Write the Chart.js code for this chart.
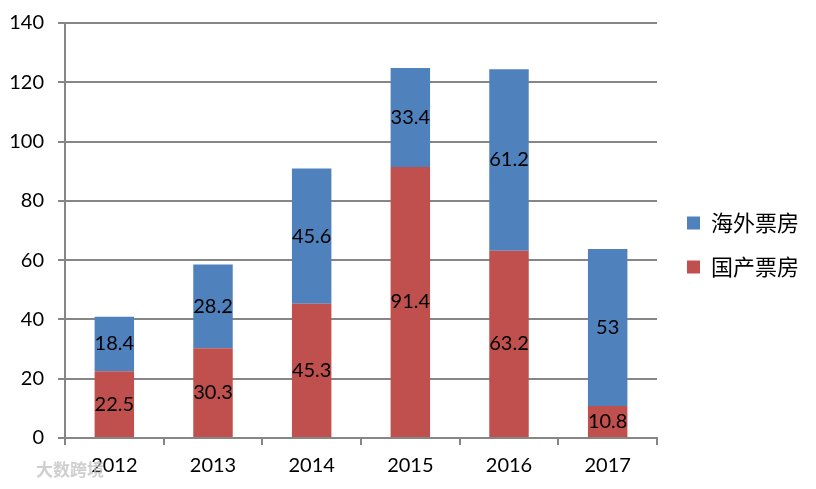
<!DOCTYPE html>
<html><head><meta charset="utf-8">
<script src="https://cdn.jsdelivr.net/npm/chart.js@4"></script>
<style>html,body{margin:0;padding:0;background:#fff}#w{width:816px;height:489px;position:relative}</style>
</head><body><div id="w"><canvas id="c"></canvas></div>
<script>
const categories = ['2012','2013','2014','2015','2016','2017'];
const domestic = [22.5, 30.3, 45.3, 91.4, 63.2, 10.8];
const overseas = [18.4, 28.2, 45.6, 33.4, 61.2, 53];
const domesticLabel = '国产票房';
const overseasLabel = '海外票房';
const yTicks = [0,20,40,60,80,100,120,140];
const FONT = 'Lato, "Noto Sans CJK SC", sans-serif';

const valueLabels = {
  id:'valueLabels',
  afterDatasetsDraw(chart){
    const ctx = chart.ctx;
    ctx.save();
    ctx.font = '20px ' + FONT;
    ctx.fillStyle = '#000';
    ctx.textAlign = 'center';
    ctx.textBaseline = 'middle';
    chart.data.datasets.forEach((ds, di) => {
      const meta = chart.getDatasetMeta(di);
      meta.data.forEach((bar, i) => {
        const y = (bar.y + bar.base) / 2;
        ctx.fillText(String(ds.data[i]), bar.x, y);
      });
    });
    ctx.restore();
  }
};
const legendShift = {
  id:'legendShift',
  afterLayout(chart){
    const l = chart.legend;
    if (!l) return;
    l.left += 8; l.right += 8;
    l.top -= 11; l.bottom -= 11;
  }
};
const watermark = {
  id:'watermark',
  afterDraw(chart){
    const ctx = chart.ctx;
    ctx.save();
    ctx.font = 'bold 17px "Noto Sans CJK SC", sans-serif';
    ctx.fillStyle = 'rgba(195,195,195,0.8)';
    ctx.textBaseline = 'middle';
    ctx.fillText('大数跨境', 36, 470);
    ctx.restore();
  }
};

new Chart(document.getElementById('c'), {
  type:'bar',
  data:{
    labels: categories,
    datasets:[
      {label: domesticLabel, data: domestic, backgroundColor:'#C0504D', order:1},
      {label: overseasLabel, data: overseas, backgroundColor:'#4F81BD', order:2}
    ]
  },
  options:{
    responsive:true, maintainAspectRatio:false, animation:false,
    layout:{padding:{top:23, right:15, left:0, bottom:0}},
    datasets:{bar:{barPercentage:0.4, categoryPercentage:1}},
    plugins:{
      tooltip:{enabled:false},
      legend:{
        position:'right',
        reverse:true,
        labels:{
          boxWidth:13, boxHeight:13, padding:22,
          color:'#000',
          font:{size:22, family:'"Noto Sans CJK SC", sans-serif'}
        }
      }
    },
    scales:{
      x:{
        stacked:true,
        grid:{display:true, drawOnChartArea:false, drawTicks:true, tickLength:7, color:'#868686', lineWidth:2},
        border:{color:'#868686', width:2},
        ticks:{color:'#000', font:{size:20, family:FONT}, padding:9, maxRotation:0},
        afterFit(s){ s.height = 51; s.paddingLeft = 0; s.paddingRight = 0; }
      },
      y:{
        stacked:true, min:0, max:140,
        afterBuildTicks(s){ s.ticks = yTicks.map(v=>({value:v})); },
        grid:{color:'#868686', lineWidth:2, tickLength:7},
        border:{color:'#868686', width:2},
        ticks:{color:'#000', font:{size:20, family:FONT}, padding:14},
        afterFit(s){ s.width = 65; s.paddingTop = 0; s.paddingBottom = 0; }
      }
    }
  },
  plugins:[valueLabels, legendShift, watermark]
});
</script></body></html>
